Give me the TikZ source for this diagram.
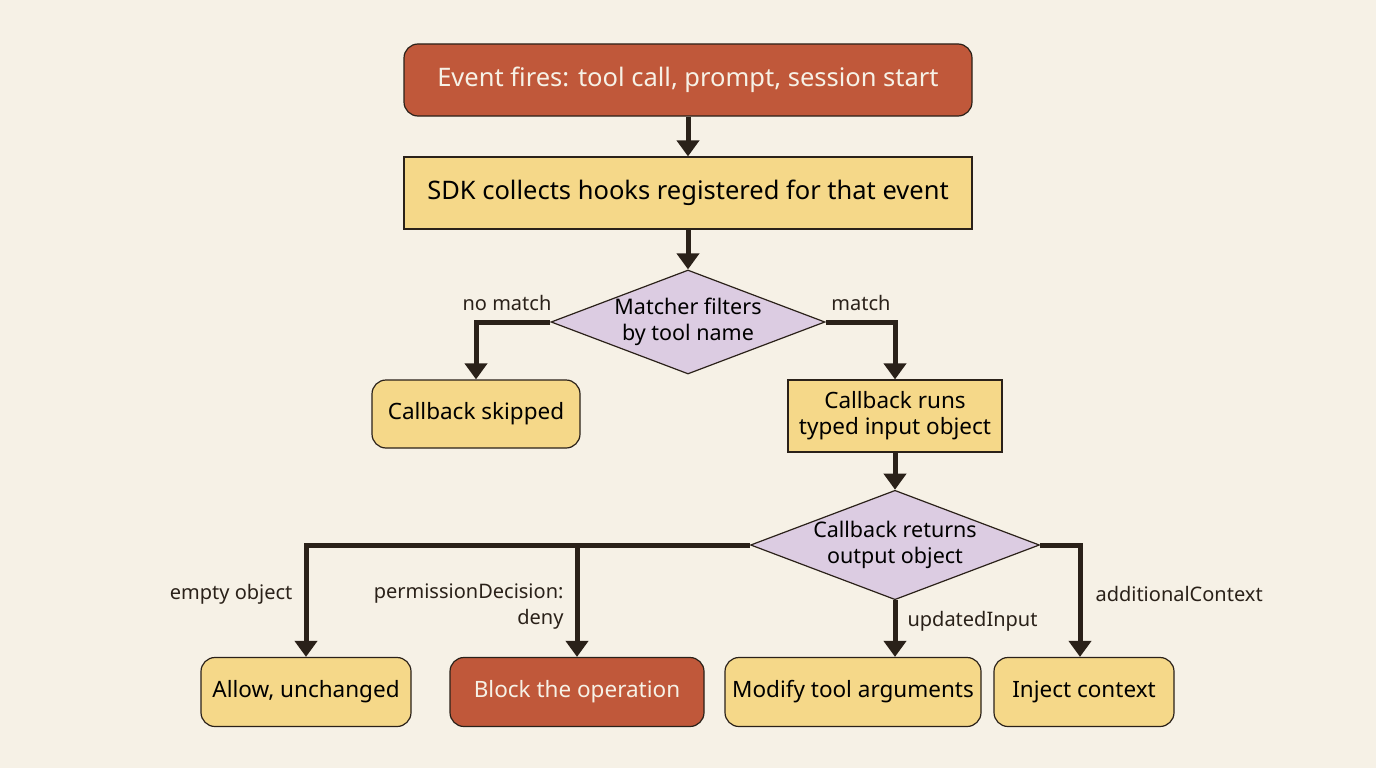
\documentclass[tikz,border=0pt]{standalone}
\usepackage{fontspec}
\setmainfont{Noto Sans}
\usetikzlibrary{positioning,shapes.geometric,arrows.meta}
\definecolor{bgcol}{HTML}{F6F1E6}
\definecolor{rust}{HTML}{C0583A}
\definecolor{sand}{HTML}{F5D889}
\definecolor{lilac}{HTML}{DCCCE2}
\definecolor{ink}{HTML}{2A2119}
\tikzset{
  box/.style={draw=ink, line width=1.2pt, fill=sand, font=\fontsize{22.5}{26}\selectfont, align=center, inner sep=0pt},
  rbox/.style={box, rounded corners=14pt},
  hot/.style={rbox, fill=rust, text=bgcol},
  wide/.style={font=\fontsize{25.5}{29}\selectfont},
  choice/.style={diamond, draw=ink, line width=1.2pt, fill=lilac, aspect=2.64, inner sep=0pt, font=\fontsize{21.5}{26}\selectfont, align=center},
  flow/.style={draw=ink, line width=5pt, -{Triangle[length=16pt,width=22pt]}},
  lbl/.style={font=\fontsize{20}{26}\selectfont, text=ink}
}
\begin{document}
\begin{tikzpicture}[x=1pt,y=-1pt]
  \fill[bgcol] (0,0) rectangle (1376,768);
  \useasboundingbox (0,0) rectangle (1376,768);

  \node (event) [hot, wide, minimum width=568pt, minimum height=72pt] at (688,80) {Event fires: tool call, prompt, session start};
  \node (collect) [box, wide, minimum width=568pt, minimum height=72pt] at (688,193) {SDK collects hooks registered for that event};
  \node (matcher) [choice, minimum width=274pt, minimum height=104pt] at (688,322) {Matcher filters\\by tool name};
  \node (skipped) [rbox, minimum width=208pt, minimum height=68pt] at (476,414) {Callback skipped};
  \node (runs) [box, minimum width=214pt, minimum height=72pt] at (895,416) {Callback runs\\typed input object};
  \node (returns) [choice, minimum width=286pt, minimum height=104pt] at (895,545) {Callback returns\\output object};
  \node (allow) [rbox, minimum width=210pt, minimum height=69pt] at (306,692) {Allow, unchanged};
  \node (block) [hot, minimum width=254pt, minimum height=69pt] at (577,692) {Block the operation};
  \node (modify) [rbox, minimum width=256pt, minimum height=69pt] at (853,692) {Modify tool arguments};
  \node (inject) [rbox, minimum width=180pt, minimum height=69pt] at (1084,692) {Inject context};

  \draw[flow] (event) -- (collect);
  \draw[flow] (collect) -- (matcher);
  \draw[flow] (matcher.west) -| (skipped.north);
  \draw[flow] (matcher.east) -| (runs.north);
  \draw[flow] (runs) -- (returns);
  \draw[flow] (returns.west) -| (allow.north);
  \draw[flow] (returns.west) -| (block.north);
  \draw[flow] (returns.south) -- (returns.south |- modify.north);
  \draw[flow] (returns.east) -| (inject.north -| 1080,0);

  \node[lbl] (nomatch) at (507,303) {no match};
  \node[lbl] (match) at (861,303) {match};
  \node[lbl, anchor=east] (empty) at (296,594) {empty object};
  \node[lbl, anchor=east, align=right] (deny) at (567,607) {permissionDecision:\\deny};
  \node[lbl, anchor=west] (upd) at (904,621) {updatedInput};
  \node[lbl, anchor=west] (addc) at (1092,594) {additionalContext};
\end{tikzpicture}
\end{document}
